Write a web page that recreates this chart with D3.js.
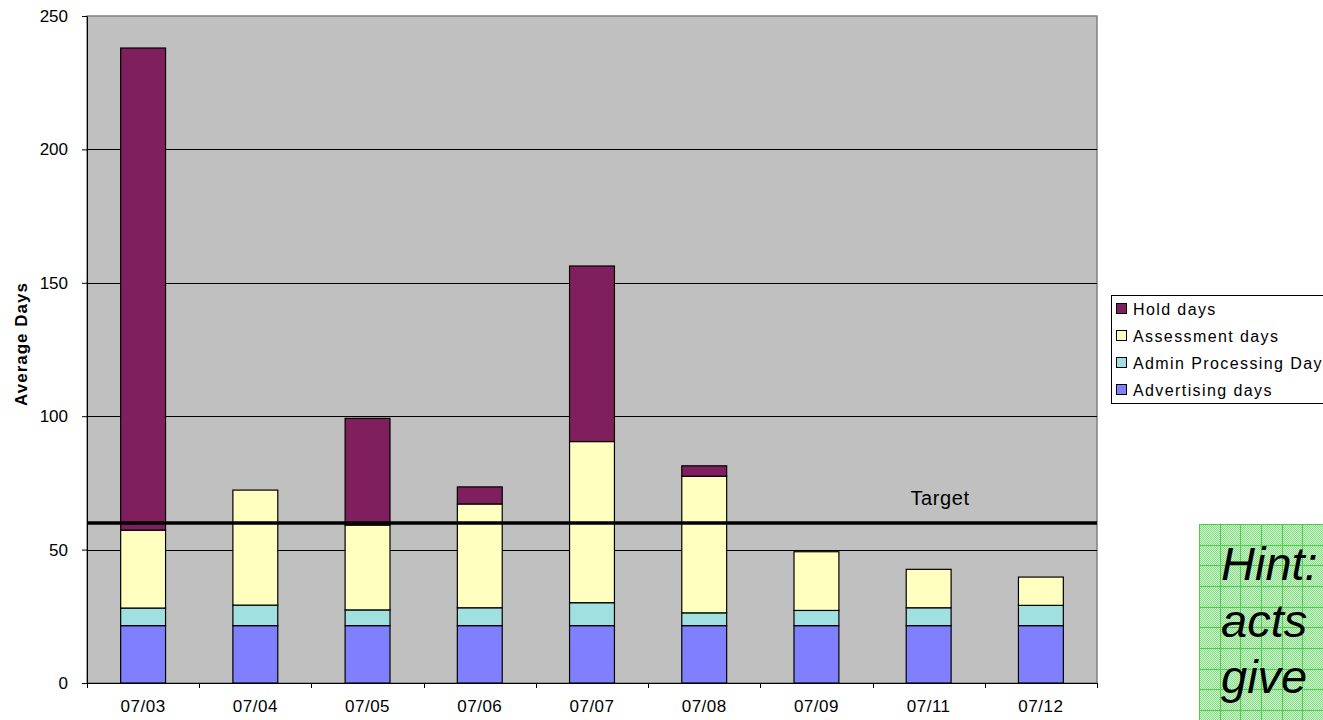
<!DOCTYPE html>
<html>
<head>
<meta charset="utf-8">
<script src="https://cdn.jsdelivr.net/npm/d3@7"></script>
<style>
  html, body { margin: 0; padding: 0; background: #fff; }
  svg { display: block; font-family: "Liberation Sans", Arial, sans-serif; }
</style>
</head>
<body>
<svg id="chart" width="1323" height="720"></svg>
<script>
// Months shown along the x axis
const months = ["07/03", "07/04", "07/05", "07/06", "07/07", "07/08", "07/09", "07/11", "07/12"];

// Average days per stage, stacked bottom to top
const advertisingDays = [21.5, 21.5, 21.5, 21.5, 21.5, 21.5, 21.5, 21.5, 21.5];
const adminDays       = [6.6, 7.7, 5.9, 6.7, 8.6, 4.8, 5.7, 6.7, 7.6];
const assessmentDays  = [29.2, 43.1, 31.8, 38.9, 60.4, 51.2, 22.0, 14.4, 10.6];
const holdDays        = [180.7, 0, 40.0, 6.4, 65.8, 3.9, 0, 0, 0];

const seriesNames = ["Advertising days", "Admin Processing Day", "Assessment days", "Hold days"];
const seriesColors = ["#8080FF", "#A0E0E0", "#FFFFC0", "#801F5E"];

const yTicks = [0, 50, 100, 150, 200, 250];
const targetDays = 60;
const hintLines = ["Hint:", "acts", "give"];

const svg = d3.select("#chart");
const plot = { left: 87, right: 1097, top: 16, bottom: 683 };

const x = d3.scaleBand().domain(months).range([plot.left, plot.right]).paddingInner(0.6).paddingOuter(0.3);
const xBand = d3.scaleBand().domain(months).range([plot.left, plot.right]);
const y = d3.scaleLinear().domain([0, 250]).range([plot.bottom, plot.top]);

// Plot background
svg.append("rect")
  .attr("x", plot.left).attr("y", plot.top)
  .attr("width", plot.right - plot.left).attr("height", plot.bottom - plot.top)
  .attr("fill", "#C0C0C0").attr("stroke", "#808080").attr("stroke-width", 1.5);

// Horizontal gridlines
svg.append("g").selectAll("line")
  .data(yTicks.filter(d => d > 0 && d < 250))
  .join("line")
  .attr("x1", plot.left).attr("x2", plot.right)
  .attr("y1", d => Math.round(y(d)) + 0.5).attr("y2", d => Math.round(y(d)) + 0.5)
  .attr("stroke", "#000").attr("stroke-width", 1);

// Stacked bars
const rows = months.map((m, i) => ({
  month: m,
  [seriesNames[0]]: advertisingDays[i],
  [seriesNames[1]]: adminDays[i],
  [seriesNames[2]]: assessmentDays[i],
  [seriesNames[3]]: holdDays[i]
}));
const stacked = d3.stack().keys(seriesNames)(rows);

svg.append("g").selectAll("g")
  .data(stacked)
  .join("g")
  .attr("fill", (d, i) => seriesColors[i])
  .selectAll("rect")
  .data(d => d.filter(s => s[1] - s[0] > 0))
  .join("rect")
  .attr("x", d => x(d.data.month))
  .attr("width", x.bandwidth())
  .attr("y", d => y(d[1]))
  .attr("height", d => y(d[0]) - y(d[1]))
  .attr("stroke", "#000").attr("stroke-width", 1.2);

// Target line
svg.append("line")
  .attr("x1", plot.left).attr("x2", plot.right)
  .attr("y1", y(targetDays)).attr("y2", y(targetDays))
  .attr("stroke", "#000").attr("stroke-width", 3.5);

svg.append("text")
  .attr("x", 940).attr("y", y(targetDays) - 18)
  .attr("text-anchor", "middle")
  .attr("font-size", 20)
  .attr("letter-spacing", 0.6)
  .text("Target");

// Y axis
const yAxis = svg.append("g")
  .attr("transform", `translate(${plot.left},0)`)
  .call(d3.axisLeft(y).tickValues(yTicks).tickSize(5).tickPadding(14).tickSizeOuter(0));
yAxis.select(".domain").attr("stroke", "#000");
yAxis.selectAll(".tick line").attr("stroke", "#000");
yAxis.selectAll("text").attr("font-size", 17).attr("fill", "#000")
  .attr("font-family", "Liberation Sans, Arial, sans-serif");

// X axis with ticks on category boundaries
svg.append("line")
  .attr("x1", plot.left).attr("x2", plot.right)
  .attr("y1", plot.bottom + 0.5).attr("y2", plot.bottom + 0.5)
  .attr("stroke", "#000");
svg.append("g").selectAll("line")
  .data(months.concat(["end"]))
  .join("line")
  .attr("x1", (d, i) => Math.round(plot.left + i * xBand.bandwidth()) + 0.5)
  .attr("x2", (d, i) => Math.round(plot.left + i * xBand.bandwidth()) + 0.5)
  .attr("y1", plot.bottom).attr("y2", plot.bottom + 5)
  .attr("stroke", "#000");
svg.append("g").selectAll("text")
  .data(months)
  .join("text")
  .attr("x", d => xBand(d) + xBand.bandwidth() / 2)
  .attr("y", 712)
  .attr("text-anchor", "middle")
  .attr("font-size", 17)
  .attr("letter-spacing", 0.5)
  .text(d => d);

// Y axis title
svg.append("text")
  .attr("transform", "translate(27,344) rotate(-90)")
  .attr("text-anchor", "middle")
  .attr("font-size", 17)
  .attr("font-weight", "bold")
  .attr("letter-spacing", 1)
  .text("Average Days");

// Legend
const legend = svg.append("g");
legend.append("rect")
  .attr("x", 1111.5).attr("y", 295.5).attr("width", 230).attr("height", 108)
  .attr("fill", "#fff").attr("stroke", "#000");
const legendOrder = [3, 2, 1, 0];
legendOrder.forEach((si, k) => {
  const cy = 309 + k * 27;
  legend.append("rect")
    .attr("x", 1116.5).attr("y", cy - 5.5).attr("width", 10).attr("height", 10)
    .attr("fill", seriesColors[si]).attr("stroke", "#000");
  legend.append("text")
    .attr("x", 1133).attr("y", cy + 6)
    .attr("font-size", 16)
    .attr("letter-spacing", 1.4)
    .text(seriesNames[si]);
});

// Hint note with a green graph-paper fill
const defs = svg.append("defs");
const dots = defs.append("pattern")
  .attr("id", "dither").attr("width", 2).attr("height", 2)
  .attr("patternUnits", "userSpaceOnUse");
dots.append("rect").attr("width", 2).attr("height", 2).attr("fill", "#CFF5CF");
dots.append("rect").attr("width", 1).attr("height", 1).attr("fill", "#86DD86");
dots.append("rect").attr("x", 1).attr("y", 1).attr("width", 1).attr("height", 1).attr("fill", "#86DD86");

const hint = { x: 1199, y: 524, w: 130, h: 200, cell: 20.65 };
svg.append("rect")
  .attr("x", hint.x).attr("y", hint.y).attr("width", hint.w).attr("height", hint.h)
  .attr("fill", "url(#dither)");
const gridG = svg.append("g").attr("stroke", "#4CCB4C").attr("stroke-width", 1);
d3.range(0, 7).forEach(i => {
  const gx = Math.round(hint.x + i * hint.cell) + 0.5;
  gridG.append("line").attr("x1", gx).attr("x2", gx).attr("y1", hint.y).attr("y2", hint.y + hint.h);
});
d3.range(0, 10).forEach(i => {
  const gy = Math.round(hint.y + i * hint.cell) + 0.5;
  gridG.append("line").attr("x1", hint.x).attr("x2", hint.x + hint.w).attr("y1", gy).attr("y2", gy);
});
svg.append("g").selectAll("text")
  .data(hintLines)
  .join("text")
  .attr("x", 1221)
  .attr("y", (d, i) => 580 + i * 56.5)
  .attr("font-size", 47)
  .attr("font-style", "italic")
  .attr("fill", "#000")
  .text(d => d);
</script>
</body>
</html>
